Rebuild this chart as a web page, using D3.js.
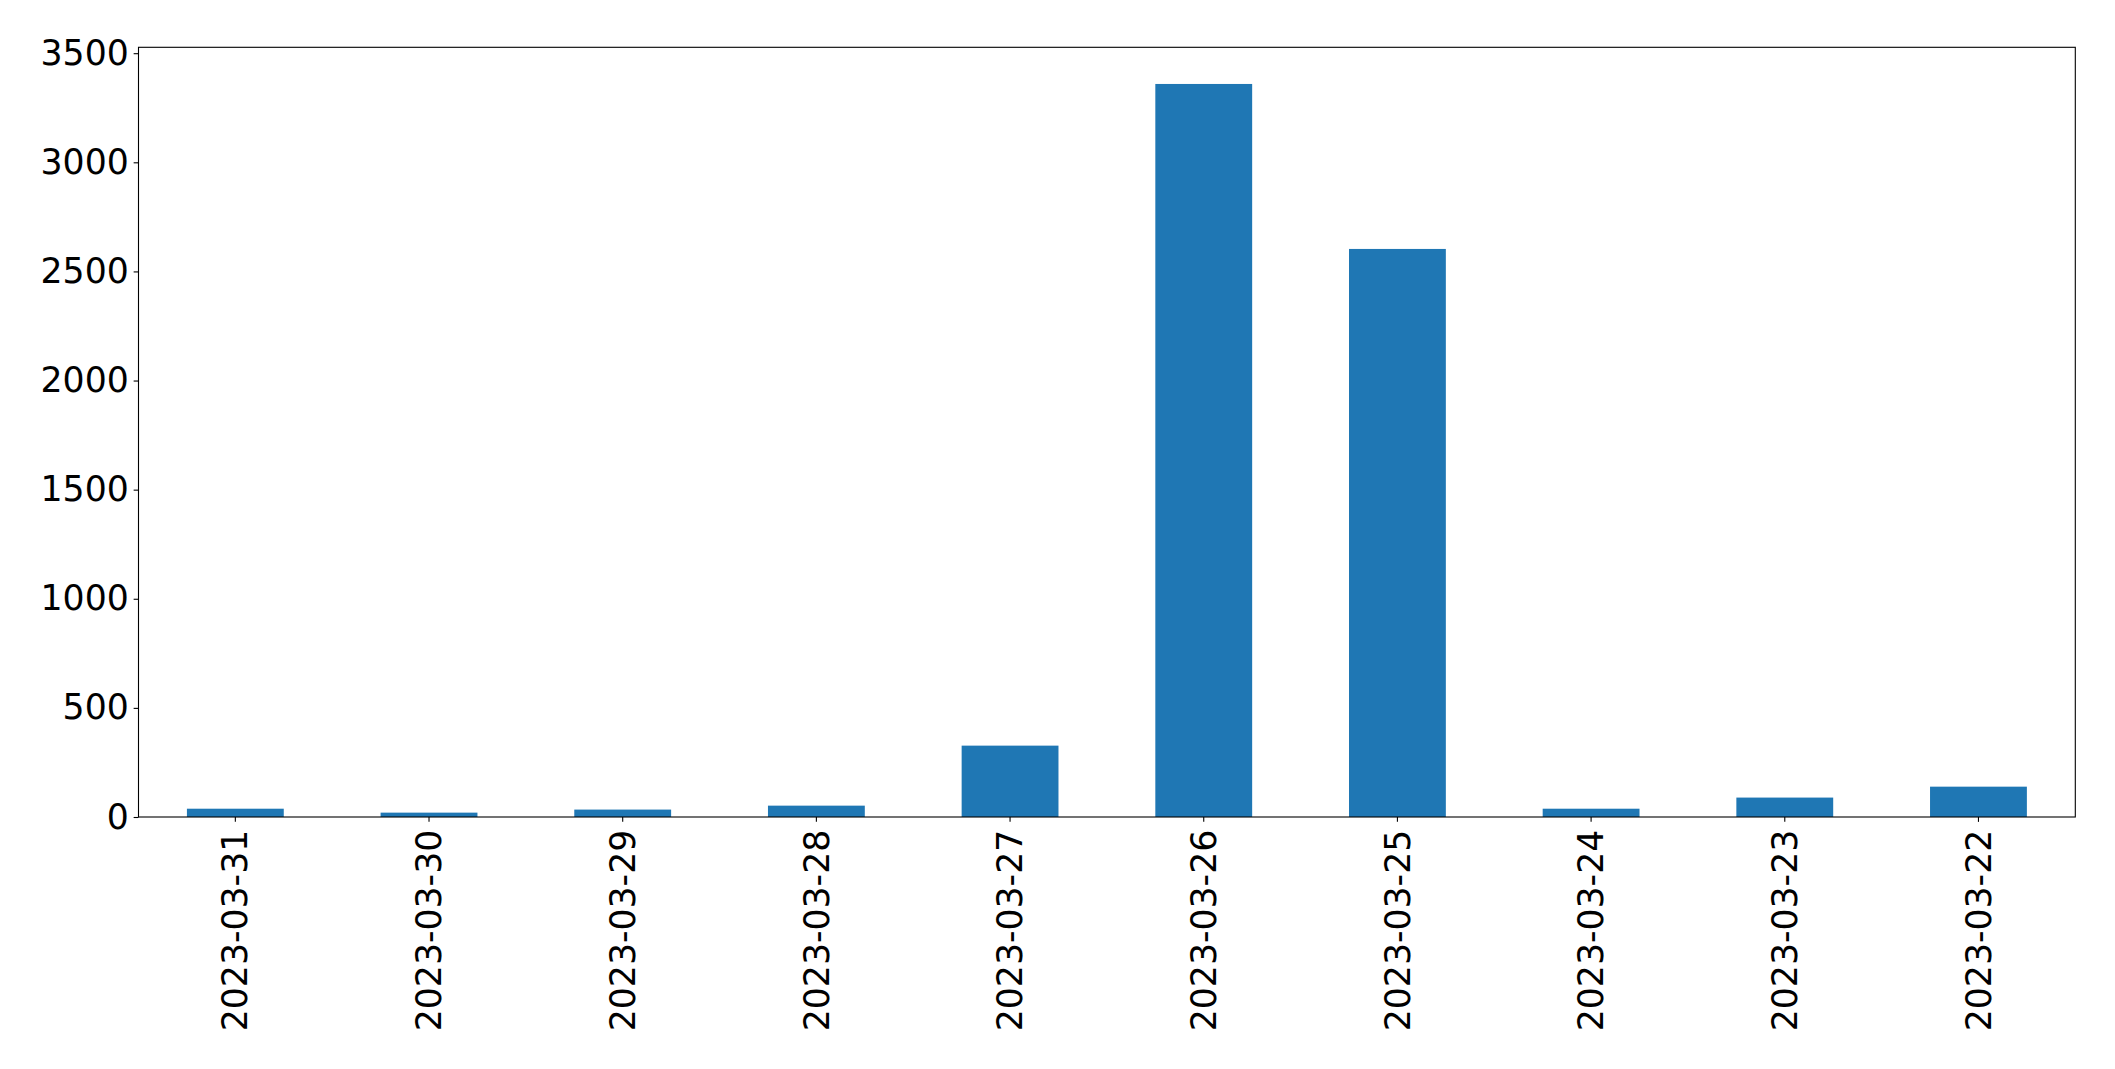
<!DOCTYPE html>
<html>
<head>
<meta charset="utf-8">
<script src="https://cdn.jsdelivr.net/npm/d3@7"></script>
<style>
  html, body { margin: 0; padding: 0; background: #fff; }
  svg { display: block; }
  text { font-family: "DejaVu Sans", sans-serif; fill: #000; }
</style>
</head>
<body>
<svg id="chart" width="2115" height="1069"></svg>
<script>
const categories = ["2023-03-31","2023-03-30","2023-03-29","2023-03-28","2023-03-27","2023-03-26","2023-03-25","2023-03-24","2023-03-23","2023-03-22"];
const values = [38, 20, 34, 52, 327, 3359, 2603, 38, 89, 139];
const yTicks = [0, 500, 1000, 1500, 2000, 2500, 3000, 3500];

const W = 2115, H = 1069;
const margin = { left: 138.5, right: W - 2075.3, top: 47.3, bottom: H - 817 };
const svg = d3.select("#chart");

const x = d3.scaleBand().domain(categories)
  .range([margin.left, W - margin.right]).paddingInner(0.5).paddingOuter(0.25);
const y = d3.scaleLinear().domain([0, 3527]).range([H - margin.bottom, margin.top]);

svg.append("g").selectAll("rect").data(values).join("rect")
  .attr("x", (d, i) => x(categories[i]))
  .attr("width", x.bandwidth())
  .attr("y", d => y(d))
  .attr("height", d => y(0) - y(d))
  .attr("fill", "#1f77b4");

const fontSize = "34.7px";
const tickLen = 4.86, pad = 4.86;

const yAxis = svg.append("g").attr("transform", `translate(${margin.left},0)`)
  .call(d3.axisLeft(y).tickValues(yTicks).tickSize(tickLen).tickPadding(pad).tickFormat(d3.format("d")));
yAxis.select(".domain").remove();
yAxis.selectAll("line").attr("stroke", "#000").attr("stroke-width", 1.1);
yAxis.selectAll("text").style("font-size", fontSize).attr("font-family", "DejaVu Sans").attr("fill", "#000");

const xAxis = svg.append("g").attr("transform", `translate(0,${H - margin.bottom})`)
  .call(d3.axisBottom(x).tickSize(tickLen).tickPadding(pad));
xAxis.select(".domain").remove();
xAxis.selectAll("line").attr("stroke", "#000").attr("stroke-width", 1.1);
xAxis.selectAll("text")
  .style("font-size", fontSize).attr("font-family", "DejaVu Sans").attr("fill", "#000")
  .attr("text-anchor", "end")
  .attr("x", 0).attr("y", 0).attr("dy", "0.35em")
  .attr("transform", `translate(0,${tickLen + pad + 3}) rotate(-90)`);

// frame
svg.append("rect")
  .attr("x", margin.left).attr("y", margin.top)
  .attr("width", W - margin.right - margin.left)
  .attr("height", H - margin.bottom - margin.top)
  .attr("fill", "none").attr("stroke", "#000").attr("stroke-width", 1.1);
</script>
</body>
</html>
